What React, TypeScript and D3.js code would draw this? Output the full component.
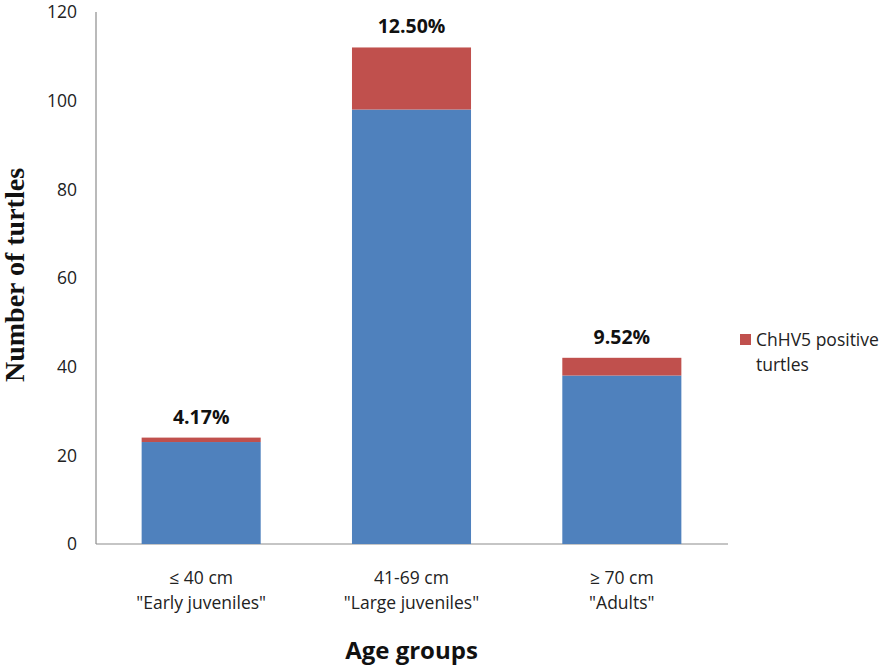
import { useEffect, useRef } from "react";
import * as d3 from "d3";

const categories = ["≤ 40 cm|\"Early juveniles\"", "41-69 cm|\"Large juveniles\"", "≥ 70 cm|\"Adults\""];
const negativeCounts = [23, 98, 38];
const positiveCounts = [1, 14, 4];
const percentLabels = ["4.17%", "12.50%", "9.52%"];
const yTicks = [0, 20, 40, 60, 80, 100, 120];

export default function App() {
  const svgRef = useRef<SVGSVGElement>(null);

  useEffect(() => {
    if (!svgRef.current) return;
    const width = 886;
    const height = 668;
    const svg = d3.select(svgRef.current);
    svg.selectAll("*").remove();

    const margin = { top: 12, right: 159, bottom: 124, left: 96 };
    const x = d3.scaleBand<number>()
      .domain(d3.range(categories.length))
      .range([margin.left, width - margin.right])
      .paddingInner(0.434)
      .paddingOuter(0.217);
    const y = d3.scaleLinear().domain([0, 120]).range([height - margin.bottom, margin.top]);

    const sans = "Open Sans, Liberation Sans, sans-serif";

    // axes
    svg.append("line")
      .attr("x1", margin.left).attr("x2", margin.left)
      .attr("y1", y(120)).attr("y2", y(0))
      .attr("stroke", "#8c8c8c").attr("stroke-width", 1.2);
    svg.append("line")
      .attr("x1", margin.left).attr("x2", width - margin.right + 1)
      .attr("y1", y(0)).attr("y2", y(0))
      .attr("stroke", "#8c8c8c").attr("stroke-width", 1.2);

    svg.selectAll(".ytick")
      .data(yTicks)
      .enter()
      .append("text")
      .attr("x", 77)
      .attr("y", (d) => y(d))
      .attr("dy", "0.36em")
      .attr("text-anchor", "end")
      .style("font-family", sans)
      .style("font-size", "17.5px")
      .style("fill", "#222")
      .text((d) => d);

    // stacked bars
    const bars = svg.selectAll(".bar")
      .data(categories.map((_, i) => i))
      .enter()
      .append("g");

    bars.append("rect")
      .attr("x", (i) => x(i)!)
      .attr("width", x.bandwidth())
      .attr("y", (i) => y(negativeCounts[i]))
      .attr("height", (i) => y(0) - y(negativeCounts[i]))
      .style("fill", "#4F81BD");

    bars.append("rect")
      .attr("x", (i) => x(i)!)
      .attr("width", x.bandwidth())
      .attr("y", (i) => y(negativeCounts[i] + positiveCounts[i]))
      .attr("height", (i) => y(negativeCounts[i]) - y(negativeCounts[i] + positiveCounts[i]))
      .style("fill", "#C0504D");

    bars.append("text")
      .attr("x", (i) => x(i)! + x.bandwidth() / 2)
      .attr("y", (i) => y(negativeCounts[i] + positiveCounts[i]) - 14)
      .attr("text-anchor", "middle")
      .style("font-family", sans)
      .style("font-size", "19.5px")
      .style("font-weight", "bold")
      .style("fill", "#111")
      .text((i) => percentLabels[i]);

    // category labels
    bars.each(function (i) {
      const lines = categories[i].split("|");
      const t = d3.select(this).append("text")
        .attr("text-anchor", "middle")
        .style("font-family", sans)
        .style("font-size", "17.5px")
        .style("fill", "#222");
      lines.forEach((ln, k) => {
        t.append("tspan")
          .attr("x", x(i)! + x.bandwidth() / 2)
          .attr("y", 584 + k * 25)
          .text(ln);
      });
    });

    // axis titles
    svg.append("text")
      .attr("x", x(1)! + x.bandwidth() / 2)
      .attr("y", 659)
      .attr("text-anchor", "middle")
      .style("font-family", sans)
      .style("font-size", "24px")
      .style("font-weight", "bold")
      .style("fill", "#111")
      .text("Age groups");

    svg.append("text")
      .attr("transform", `translate(24, 275) rotate(-90)`)
      .attr("text-anchor", "middle")
      .style("font-family", "Liberation Serif, Times New Roman, serif")
      .style("font-size", "28px")
      .style("font-weight", "bold")
      .style("fill", "#111")
      .text("Number of turtles");

    // legend
    svg.append("rect")
      .attr("x", 740).attr("y", 334)
      .attr("width", 11).attr("height", 11)
      .style("fill", "#C0504D");
    const lg = svg.append("text")
      .style("font-family", sans)
      .style("font-size", "17.5px")
      .style("fill", "#222");
    lg.append("tspan").attr("x", 756).attr("y", 346).text("ChHV5 positive");
    lg.append("tspan").attr("x", 756).attr("y", 371).text("turtles");
  }, []);

  return (
    <svg
      ref={svgRef}
      width={886}
      height={668}
      style={{ position: "absolute", left: 0, top: 0, background: "#fff" }}
    />
  );
}
